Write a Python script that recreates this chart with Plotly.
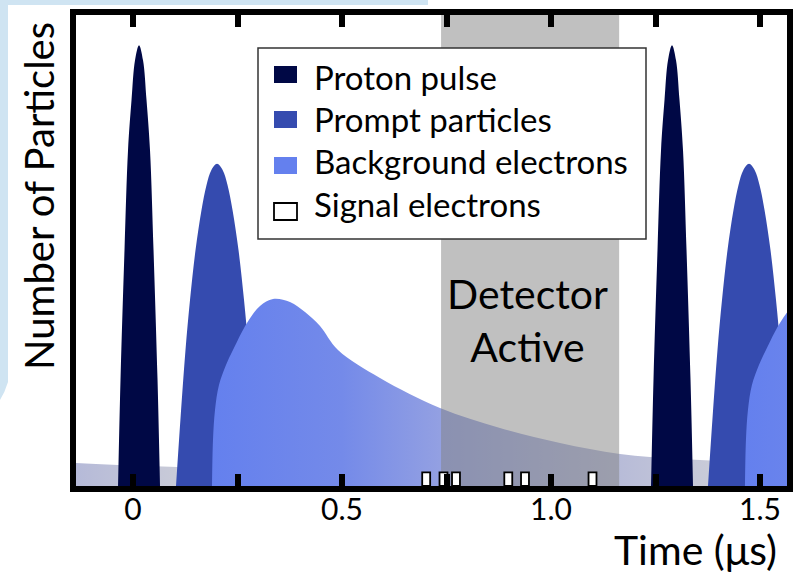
import plotly.graph_objects as go

# ---------------- data (times in microseconds, levels in relative units) ----------------
period = 1.275
proton_centers = [0.0144, 1.2895]
prompt_centers = [0.2010, 1.4737]
bg_offsets = [0.0, period]

proton_heights = [0, 0.225, 0.501, 0.713, 0.820, 0.904, 0.936]
proton_halfwidths = [0.0502, 0.0443, 0.0347, 0.0263, 0.0179, 0.0096, 0.0]

prompt_heights = [0, 0.140, 0.289, 0.395, 0.501, 0.586, 0.639, 0.671, 0.684]
prompt_halfwidths = [0.0981, 0.0876, 0.0754, 0.0646, 0.0514, 0.0371, 0.0251, 0.0134, 0.0]

bg_time = [0.1890, 0.1914, 0.1962, 0.2057, 0.2225, 0.2392, 0.2727, 0.3038, 0.3349,
           0.3756, 0.4115, 0.4474, 0.4904, 0.5909, 0.7344, 0.8780, 1.0215, 1.1651,
           1.3086, 1.4522, 1.5957, 1.6675]
bg_level = [0.0, 0.0977, 0.1614, 0.2144, 0.2569, 0.2887, 0.3461, 0.3822, 0.3970,
            0.3907, 0.3694, 0.3397, 0.2887, 0.2293, 0.1656, 0.1231, 0.0913, 0.0679,
            0.0573, 0.0520, 0.0499, 0.0488]

tail_time = [-0.20, -0.136, -0.036, 0.105, 0.196]
tail_level = [0.050, 0.0488, 0.0446, 0.0403, 0.038]

signal_times = [0.7014, 0.7428, 0.7727, 0.8978, 0.9378, 1.0993]
signal_height = 0.029
signal_width = 0.019

detector_window = [0.737, 1.163]

tick_vals = [0, 0.25, 0.5, 0.75, 1.0, 1.25, 1.5]
tick_text = ["0", "", "0.5", "", "1.0", "", "1.5"]

legend_labels = ["Proton pulse", "Prompt particles", "Background electrons", "Signal electrons"]

# ---------------- styles ----------------
PROTON = "#000845"
PROMPT = "#354baf"
BG = "#6480ee"
FONT = "Lato"
x_range = [-0.13636, 1.56459]

bg_stops_t = [0.189, 0.50, 0.735, 1.17, 1.37, 1.6675]
bg_stops_c = ["rgb(100,128,238)", "rgb(116,138,233)", "rgb(147,160,226)",
              "rgb(184,188,216)", "rgb(200,202,216)", "rgb(210,212,220)"]
g0, g1 = bg_stops_t[0], bg_stops_t[-1]
bg_scale = [[(t - g0) / (g1 - g0), c] for t, c in zip(bg_stops_t, bg_stops_c)]


def pulse_outline(center, heights, halfwidths):
    xs = [center - w for w in halfwidths] + [center + w for w in reversed(halfwidths[:-1])]
    ys = list(heights) + list(reversed(heights[:-1]))
    return xs, ys


def grad(offset):
    return dict(type="horizontal", start=g0 + offset, stop=g1 + offset, colorscale=bg_scale)


fig = go.Figure()

# previous cycle's background tail
fig.add_trace(go.Scatter(
    x=[tail_time[0]] + tail_time + [tail_time[-1]],
    y=[0] + tail_level + [0],
    mode="lines", line=dict(width=0, shape="spline"), fill="toself",
    fillgradient=grad(-period), hoverinfo="skip", showlegend=False))

for i in range(2):
    px_, py_ = pulse_outline(proton_centers[i], proton_heights, proton_halfwidths)
    fig.add_trace(go.Scatter(x=px_, y=py_, mode="lines",
                             line=dict(width=0, shape="spline", color=PROTON),
                             fill="toself", fillcolor=PROTON, hoverinfo="skip", showlegend=False))
    qx, qy = pulse_outline(prompt_centers[i], prompt_heights, prompt_halfwidths)
    fig.add_trace(go.Scatter(x=qx, y=qy, mode="lines",
                             line=dict(width=0, shape="spline", color=PROMPT),
                             fill="toself", fillcolor=PROMPT, hoverinfo="skip", showlegend=False))
    off = bg_offsets[i]
    fig.add_trace(go.Scatter(x=[t + off for t in bg_time] + [bg_time[-1] + off],
                             y=bg_level + [0], mode="lines",
                             line=dict(width=0, shape="spline"), fill="toself",
                             fillgradient=grad(off), hoverinfo="skip", showlegend=False))

# detector-active window (semi-transparent grey overlay)
d0, d1 = detector_window
fig.add_trace(go.Scatter(x=[d0, d1, d1, d0, d0], y=[0, 0, 1, 1, 0], mode="lines",
                         line=dict(width=0), fill="toself",
                         fillcolor="rgba(129,129,129,0.5)", hoverinfo="skip", showlegend=False))

# signal electrons
sx, sy = [], []
for t in signal_times:
    a, b = t - signal_width / 2, t + signal_width / 2
    sx += [a, b, b, a, a, None]
    sy += [0, 0, signal_height, signal_height, 0, None]
fig.add_trace(go.Scatter(x=sx, y=sy, mode="lines", line=dict(color="black", width=1.8),
                         fill="toself", fillcolor="white", hoverinfo="skip", showlegend=False))

# ---------------- layout helpers (pixel -> paper) ----------------
L, R, T, B = 76, 787, 15, 486


def xp(px):
    return (px - L) / (R - L)


def yp(py):
    return (B - py) / (B - T)


shapes = []
# light-blue slide remnant at top-left
shapes.append(dict(type="path", xref="paper", yref="paper", layer="below",
                   path=(f"M {xp(0)},{yp(0)} L {xp(428)},{yp(0)} L {xp(428)},{yp(5)} "
                         f"L {xp(8)},{yp(5)} L {xp(8)},{yp(382)} Q {xp(5)},{yp(392)} {xp(0)},{yp(400)} Z"),
                   fillcolor="#cfe4f2", line=dict(width=0)))
# legend box
shapes.append(dict(type="rect", xref="paper", yref="paper", x0=xp(258), x1=xp(646),
                   y0=yp(48), y1=yp(239), fillcolor="white", line=dict(color="#333333", width=1.5)))
sw_rows = [(66, 83), (111, 128), (157, 174), (203, 220)]
sw_cols = [PROTON, PROMPT, BG, "white"]
for (a, b), c in zip(sw_rows, sw_cols):
    shapes.append(dict(type="rect", xref="paper", yref="paper", x0=xp(274), x1=xp(297),
                       y0=yp(a), y1=yp(b), fillcolor=c,
                       line=dict(color="black" if c == "white" else c, width=1.8 if c == "white" else 0)))

annotations = []
text_rows = [77, 119, 161, 204]
for lab, r in zip(legend_labels, text_rows):
    annotations.append(dict(text=lab, xref="paper", yref="paper", x=xp(312), y=yp(r),
                            xanchor="left", yanchor="middle", showarrow=False,
                            font=dict(family=FONT, size=33, color="black")))
annotations.append(dict(text="Detector<br>Active", xref="paper", yref="paper", x=xp(527), y=yp(320),
                        xanchor="center", yanchor="middle", showarrow=False,
                        font=dict(family=FONT, size=41, color="black")))
annotations.append(dict(text="Time (μs)", xref="paper", yref="paper", x=xp(778), y=yp(549),
                        xanchor="right", yanchor="middle", showarrow=False, borderpad=0,
                        font=dict(family=FONT, size=41, color="black")))
annotations.append(dict(text="Number of Particles", xref="paper", yref="paper", x=xp(39), y=yp(196),
                        xanchor="center", yanchor="middle", showarrow=False, textangle=-90,
                        font=dict(family=FONT, size=40, color="black")))

fig.update_layout(
    width=797, height=574, autosize=False,
    margin=dict(l=L, r=797 - R, t=T, b=574 - B, autoexpand=False),
    plot_bgcolor="white", paper_bgcolor="white",
    showlegend=False,
    shapes=shapes, annotations=annotations,
    xaxis=dict(range=x_range, showline=True, linewidth=6, linecolor="black", mirror="ticks",
               ticks="inside", ticklen=12, tickwidth=6, tickcolor="black",
               tickvals=tick_vals, ticktext=tick_text, ticklabelstandoff=-8, automargin=False,
               tickfont=dict(family=FONT, size=30, color="black"),
               showgrid=False, zeroline=False, fixedrange=True),
    yaxis=dict(range=[0, 1], showline=True, linewidth=6, linecolor="black", mirror=True,
               ticks="", showticklabels=False, showgrid=False, zeroline=False, fixedrange=True,
               automargin=False),
)

fig.write_html("out.html",
               config={"responsive": False, "displayModeBar": False},
               post_script="document.body.style.margin='0px';document.body.style.overflow='hidden';")
